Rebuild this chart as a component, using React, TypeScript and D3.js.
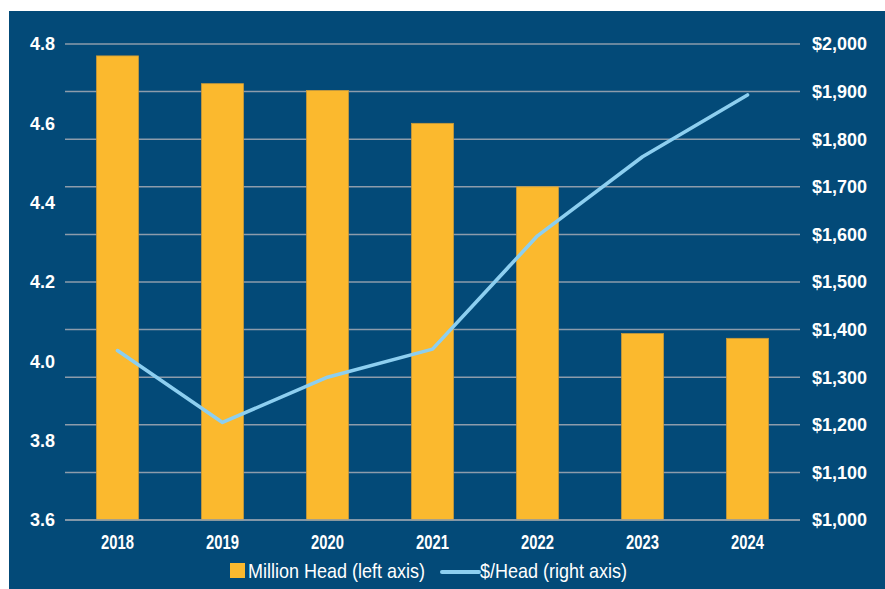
import React from "react";
import * as d3 from "d3";

const years = ["2018", "2019", "2020", "2021", "2022", "2023", "2024"];
const millionHead = [4.77, 4.70, 4.683, 4.60, 4.44, 4.07, 4.058];
const dollarsPerHead = [1356, 1205, 1300, 1359, 1597, 1763, 1893];
const leftTicks = [3.6, 3.8, 4.0, 4.2, 4.4, 4.6, 4.8];
const rightTicks = [1000, 1100, 1200, 1300, 1400, 1500, 1600, 1700, 1800, 1900, 2000];
const legendLabels = ["Million Head (left axis)", "$/Head (right axis)"];

const W = 885;
const H = 589;
const BG = "#034a78";
const BAR = "#fbb92e";
const LINE = "#8dcff0";
const GRID = "#8d9cab";

export default function App() {
  const left = 65, right = 800, top = 44, bottom = 520;
  const x = d3.scaleBand<string>().domain(years).range([left, right]).paddingInner(0.6).paddingOuter(0.3);
  const yL = d3.scaleLinear().domain([3.6, 4.8]).range([bottom, top]);
  const yR = d3.scaleLinear().domain([1000, 2000]).range([bottom, top]);
  const line = d3.line<number>()
    .x((_, i) => (x(years[i]) as number) + x.bandwidth() / 2)
    .y((d) => yR(d));
  const fmt = d3.format("$,");
  const sans = "'Liberation Sans', Arial, sans-serif";

  return (
    <div style={{ position: "absolute", left: 0, top: 0, width: W, height: H }}>
      <svg width={W} height={H} style={{ display: "block" }}>
        <rect x={0} y={0} width={W} height={H} fill="#ffffff" />
        <rect x={9} y={11} width={W - 9} height={H - 11} fill={BG} />
        {rightTicks.map((t) => (
          <line key={t} x1={left} x2={right} y1={yR(t)} y2={yR(t)} stroke={GRID} strokeWidth={1.5} />
        ))}
        {years.map((yr, i) => (
          <rect
            key={yr}
            x={x(yr)}
            y={yL(millionHead[i])}
            width={x.bandwidth()}
            height={yL(3.6) - yL(millionHead[i])}
            fill={BAR}
            stroke="#c99a3a"
            strokeWidth={0.8}
          />
        ))}
        <line x1={left} x2={right} y1={bottom} y2={bottom} stroke={GRID} strokeWidth={1.5} />
        <path d={line(dollarsPerHead) || ""} fill="none" stroke={LINE} strokeWidth={3.6} strokeLinecap="round" strokeLinejoin="round" />
        {leftTicks.map((t) => (
          <text key={t} x={55} y={yL(t)} dy="0.36em" textAnchor="end" fill="#fff" fontFamily={sans} fontWeight="bold" fontSize={18}>
            {t.toFixed(1)}
          </text>
        ))}
        {rightTicks.map((t) => (
          <text key={t} x={812} y={yR(t)} dy="0.36em" textAnchor="start" fill="#fff" fontFamily={sans} fontWeight="bold" fontSize={18}>
            {fmt(t)}
          </text>
        ))}
        {years.map((yr) => (
          <text
            key={yr}
            transform={`translate(${(x(yr) as number) + x.bandwidth() / 2},549) scale(0.74,1)`}
            textAnchor="middle"
            fill="#fff"
            fontFamily={sans}
            fontWeight="bold"
            fontSize={20}
          >
            {yr}
          </text>
        ))}
        <g>
          <rect x={230} y={563} width={15} height={15} fill={BAR} />
          <text transform="translate(248,578) scale(0.9,1)" fill="#fff" fontFamily={sans} fontSize={20}>{legendLabels[0]}</text>
          <line x1={442} x2={479} y1={572} y2={572} stroke={LINE} strokeWidth={4} strokeLinecap="round" />
          <text transform="translate(480,578) scale(0.9,1)" fill="#fff" fontFamily={sans} fontSize={20}>{legendLabels[1]}</text>
        </g>
      </svg>
    </div>
  );
}
